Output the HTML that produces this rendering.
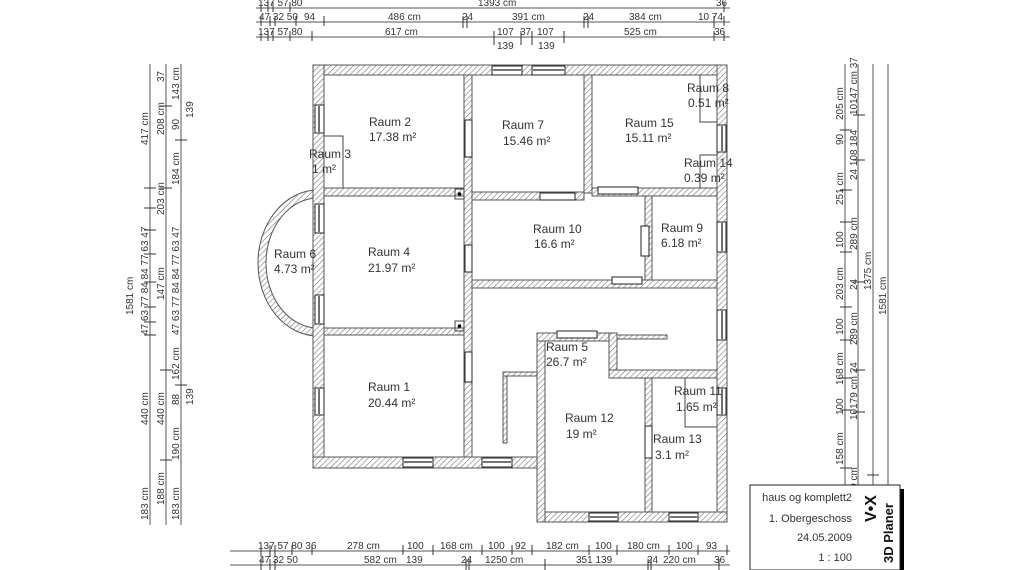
<!DOCTYPE html>
<html><head><meta charset="utf-8"><style>
html,body{margin:0;padding:0;background:#fff;width:1024px;height:570px;overflow:hidden}
svg{display:block;font-family:"Liberation Sans",sans-serif}
</style></head><body>
<svg width="1024" height="570" viewBox="0 0 1024 570" xmlns="http://www.w3.org/2000/svg">
<defs>
<pattern id="h" width="4" height="4" patternUnits="userSpaceOnUse" patternTransform="rotate(45)">
<rect width="4" height="4" fill="#fff"/><line x1="0" y1="0" x2="0" y2="4" stroke="#777" stroke-width="1.2"/>
</pattern>
</defs>
<g fill="url(#h)" stroke="#555" stroke-width="1">
<path d="M318 190 A60 73 0 0 0 318 336 L318 328 A52 65 0 0 1 318 198 Z"/>
<rect x="313" y="65" width="414" height="10"/>
<rect x="313" y="65" width="11" height="403"/>
<rect x="717" y="65" width="10" height="457"/>
<rect x="313" y="457" width="232" height="11"/>
<rect x="537" y="512" width="190" height="10"/>
<rect x="464" y="75" width="8" height="382"/>
<rect x="584" y="75" width="8" height="118"/>
<rect x="324" y="188" width="140" height="8"/>
<rect x="472" y="192" width="112" height="8"/>
<rect x="592" y="188" width="125" height="8"/>
<rect x="645" y="196" width="7" height="84"/>
<rect x="472" y="280" width="245" height="8"/>
<rect x="324" y="328" width="140" height="7"/>
<rect x="537" y="333" width="8" height="189"/>
<rect x="537" y="333" width="80" height="8"/>
<rect x="609" y="333" width="8" height="45"/>
<rect x="609" y="370" width="108" height="8"/>
<rect x="617" y="335" width="50" height="4"/>
<rect x="645" y="378" width="7" height="134"/>
<rect x="503" y="372" width="4" height="71"/>
<rect x="503" y="372" width="34" height="4"/>
</g>
<g fill="none" stroke="#444" stroke-width="1">
<path d="M324 136 H343 V188"/>
<path d="M700 75 V122 H717"/>
<path d="M717 155 H700 V188"/>
<path d="M685 378 V427 H717"/>
<rect x="455" y="189" width="9" height="10"/>
<rect x="455" y="321" width="9" height="10"/>
</g>
<circle cx="459.5" cy="194" r="1.8" fill="#000"/>
<circle cx="459.5" cy="326" r="1.8" fill="#000"/>
<g fill="#fff" stroke="#222" stroke-width="1">
<rect x="492" y="66" width="30" height="9"/><rect x="532" y="66" width="33" height="9"/>
<rect x="315" y="105" width="9" height="28"/><rect x="315" y="204" width="9" height="29"/>
<rect x="315" y="295" width="9" height="29"/><rect x="315" y="388" width="9" height="27"/>
<rect x="717" y="125" width="9" height="27"/><rect x="717" y="222" width="9" height="30"/>
<rect x="717" y="310" width="9" height="30"/><rect x="717" y="388" width="9" height="27"/>
<rect x="403" y="458" width="30" height="9"/><rect x="482" y="458" width="30" height="9"/>
<rect x="589" y="513" width="29" height="8"/><rect x="669" y="513" width="29" height="8"/>
<rect x="465" y="120" width="7" height="37"/><rect x="465" y="245" width="7" height="27"/>
<rect x="465" y="352" width="7" height="30"/><rect x="641" y="226" width="8" height="30"/>
<rect x="645" y="426" width="7" height="32"/><rect x="540" y="193" width="35" height="7"/>
<rect x="598" y="187" width="40" height="7"/><rect x="557" y="331" width="40" height="7"/>
<rect x="612" y="277" width="30" height="7"/>
</g>
<g stroke="#222" stroke-width="1.3">
<line x1="319" y1="106" x2="319" y2="132"/><line x1="319" y1="205" x2="319" y2="232"/>
<line x1="319" y1="296" x2="319" y2="323"/><line x1="319" y1="389" x2="319" y2="414"/>
<line x1="722" y1="126" x2="722" y2="151"/><line x1="722" y1="223" x2="722" y2="251"/>
<line x1="722" y1="311" x2="722" y2="339"/><line x1="722" y1="389" x2="722" y2="414"/>
<line x1="493" y1="70" x2="521" y2="70"/><line x1="533" y1="70" x2="564" y2="70"/>
<line x1="404" y1="462" x2="432" y2="462"/><line x1="483" y1="462" x2="511" y2="462"/>
<line x1="590" y1="517" x2="617" y2="517"/><line x1="670" y1="517" x2="697" y2="517"/>
</g>
<g font-size="12" fill="#333">
<text x="369" y="126">Raum 2</text><text x="369" y="141">17.38 m²</text>
<text x="309" y="158">Raum 3</text><text x="312" y="173">1 m²</text>
<text x="502" y="129">Raum 7</text><text x="503" y="145">15.46 m²</text>
<text x="625" y="127">Raum 15</text><text x="625" y="142">15.11 m²</text>
<text x="687" y="92">Raum 8</text><text x="688" y="107">0.51 m²</text>
<text x="684" y="167">Raum 14</text><text x="684" y="182">0.39 m²</text>
<text x="533" y="233">Raum 10</text><text x="534" y="248">16.6 m²</text>
<text x="661" y="232">Raum 9</text><text x="661" y="247">6.18 m²</text>
<text x="368" y="256">Raum 4</text><text x="368" y="272">21.97 m²</text>
<text x="274" y="258">Raum 6</text><text x="274" y="273">4.73 m²</text>
<text x="546" y="351">Raum 5</text><text x="546" y="366">26.7 m²</text>
<text x="368" y="391">Raum 1</text><text x="368" y="407">20.44 m²</text>
<text x="565" y="422">Raum 12</text><text x="566" y="438">19 m²</text>
<text x="674" y="395">Raum 11</text><text x="676" y="411">1.65 m²</text>
<text x="653" y="443">Raum 13</text><text x="655" y="459">3.1 m²</text>
</g>
<g stroke="#555" stroke-width="1">
<line x1="256" y1="8" x2="730" y2="8"/><line x1="256" y1="22" x2="730" y2="22"/>
<line x1="256" y1="37" x2="730" y2="37"/>
<line x1="230" y1="551" x2="730" y2="551"/><line x1="230" y1="565" x2="730" y2="565"/>
<line x1="150" y1="64" x2="150" y2="525"/><line x1="166" y1="64" x2="166" y2="525"/>
<line x1="181" y1="64" x2="181" y2="525"/>
<line x1="845" y1="64" x2="845" y2="525"/><line x1="858" y1="64" x2="858" y2="525"/>
<line x1="873" y1="64" x2="873" y2="525"/><line x1="888" y1="64" x2="888" y2="525"/>
</g>
<g stroke="#333" stroke-width="1">
<path d="M261 2v10M268 2v10M273 2v10M290 2v10M724 2v10
M261 16v10M270 16v10M275 16v10M296 16v10M324 16v10M463 16v12M467 16v12M584 16v12M588 16v12M714 16v12M724 16v10
M261 31v10M268 31v10M273 31v10M290 31v10M312 31v10M494 31v14M521 31v14M532 31v14M564 31v12M714 31v10M724 31v10
M261 545v12M270 545v12M275 545v12M292 545v10M312 545v10M403 545v10M433 545v10M482 545v10M512 545v10M532 545v10M589 545v10M617 545v10M669 545v10M698 545v10M727 545v10
M261 559v11M270 559v11M275 559v11M466 559v11M469 559v11M545 559v11M648 559v11M651 559v11M719 559v11
M144 188h12M144 208h12M144 230h12M144 254h12M144 282h12M144 307h12M144 322h12M144 335h12M160 106h12M160 188h12M160 370h12M175 140h12M175 385h12M160 460h12
M840 130h12M840 190h12M840 222h12M840 252h12M840 307h12M840 340h12M840 378h12M840 410h12M840 468h12M853 115h12M853 160h12M853 282h12M853 370h12M853 412h12M867 475h12"/>
</g>
<g font-size="10" fill="#333">
<text x="258" y="6">137 57 80</text><text x="478" y="6">1393 cm</text><text x="716" y="6">36</text>
<text x="259" y="20">47 32 50</text><text x="304" y="20">94</text><text x="388" y="20">486 cm</text><text x="462" y="20">24</text><text x="512" y="20">391 cm</text><text x="583" y="20">24</text><text x="629" y="20">384 cm</text><text x="698" y="20">10 74</text>
<text x="258" y="35">137 57 80</text><text x="385" y="35">617 cm</text><text x="497" y="35">107</text><text x="520" y="35">37</text><text x="537" y="35">107</text><text x="624" y="35">525 cm</text><text x="714" y="35">36</text>
<text x="497" y="49">139</text><text x="538" y="49">139</text>
<text x="258" y="549">137 57 80 36</text><text x="347" y="549">278 cm</text><text x="407" y="549">100</text><text x="440" y="549">168 cm</text><text x="488" y="549">100</text><text x="515" y="549">92</text><text x="546" y="549">182 cm</text><text x="595" y="549">100</text><text x="627" y="549">180 cm</text><text x="676" y="549">100</text><text x="706" y="549">93</text>
<text x="259" y="563">47 32 50</text><text x="364" y="563">582 cm</text><text x="406" y="563">139</text><text x="461" y="563">24</text><text x="485" y="563">1250 cm</text><text x="576" y="563">351 139</text><text x="647" y="563">24</text><text x="663" y="563">220 cm</text><text x="714" y="563">36</text>
</g>
<g font-size="10" fill="#333">
<text transform="translate(133,315) rotate(-90)">1581 cm</text>
<text transform="translate(148,145) rotate(-90)">417 cm</text>
<text transform="translate(148,335) rotate(-90)">47  63  77  84  84  77  63  47</text>
<text transform="translate(148,425) rotate(-90)">440 cm</text>
<text transform="translate(148,520) rotate(-90)">183 cm</text>
<text transform="translate(164,82) rotate(-90)">37</text>
<text transform="translate(164,135) rotate(-90)">208 cm</text>
<text transform="translate(164,215) rotate(-90)">203 cm</text>
<text transform="translate(164,300) rotate(-90)">147 cm</text>
<text transform="translate(164,425) rotate(-90)">440 cm</text>
<text transform="translate(164,505) rotate(-90)">188 cm</text>
<text transform="translate(179,100) rotate(-90)">143 cm</text>
<text transform="translate(179,130) rotate(-90)">90</text>
<text transform="translate(179,185) rotate(-90)">184 cm</text>
<text transform="translate(179,335) rotate(-90)">47  63  77  84  84  77  63  47</text>
<text transform="translate(179,380) rotate(-90)">162 cm</text>
<text transform="translate(179,405) rotate(-90)">88</text>
<text transform="translate(179,460) rotate(-90)">190 cm</text>
<text transform="translate(179,520) rotate(-90)">183 cm</text>
<text transform="translate(193,118) rotate(-90)">139</text>
<text transform="translate(193,405) rotate(-90)">139</text>
<text transform="translate(843,120) rotate(-90)">205 cm</text>
<text transform="translate(843,145) rotate(-90)">90</text>
<text transform="translate(843,205) rotate(-90)">251 cm</text>
<text transform="translate(843,248) rotate(-90)">100</text>
<text transform="translate(843,300) rotate(-90)">203 cm</text>
<text transform="translate(843,335) rotate(-90)">100</text>
<text transform="translate(843,385) rotate(-90)">168 cm</text>
<text transform="translate(843,415) rotate(-90)">100</text>
<text transform="translate(843,465) rotate(-90)">158 cm</text>
<text transform="translate(843,520) rotate(-90)">289 cm</text>
<text transform="translate(857,115) rotate(-90)">10147 cm 37</text>
<text transform="translate(857,180) rotate(-90)">24 108 184</text>
<text transform="translate(857,250) rotate(-90)">289 cm</text>
<text transform="translate(857,290) rotate(-90)">24</text>
<text transform="translate(857,345) rotate(-90)">289 cm</text>
<text transform="translate(857,420) rotate(-90)">10179 cm 24</text>
<text transform="translate(857,500) rotate(-90)">289 cm</text>
<text transform="translate(871,290) rotate(-90)">1375 cm</text>
<text transform="translate(886,315) rotate(-90)">1581 cm</text>
</g>
<rect x="754" y="489" width="150" height="84" fill="#000"/>
<rect x="750" y="485" width="150" height="85" fill="#fff" stroke="#222"/>
<g font-size="11" fill="#333" text-anchor="end">
<text x="852" y="501">haus og komplett2</text>
<text x="852" y="522">1. Obergeschoss</text>
<text x="852" y="541">24.05.2009</text>
<text x="852" y="561">1 : 100</text>
</g>
<text transform="translate(876,522) rotate(-90)" font-size="16" font-weight="bold" fill="#111">V•X</text>
<text transform="translate(893,563) rotate(-90)" font-size="13" font-weight="bold" fill="#111">3D Planer</text>
</svg>
</body></html>
